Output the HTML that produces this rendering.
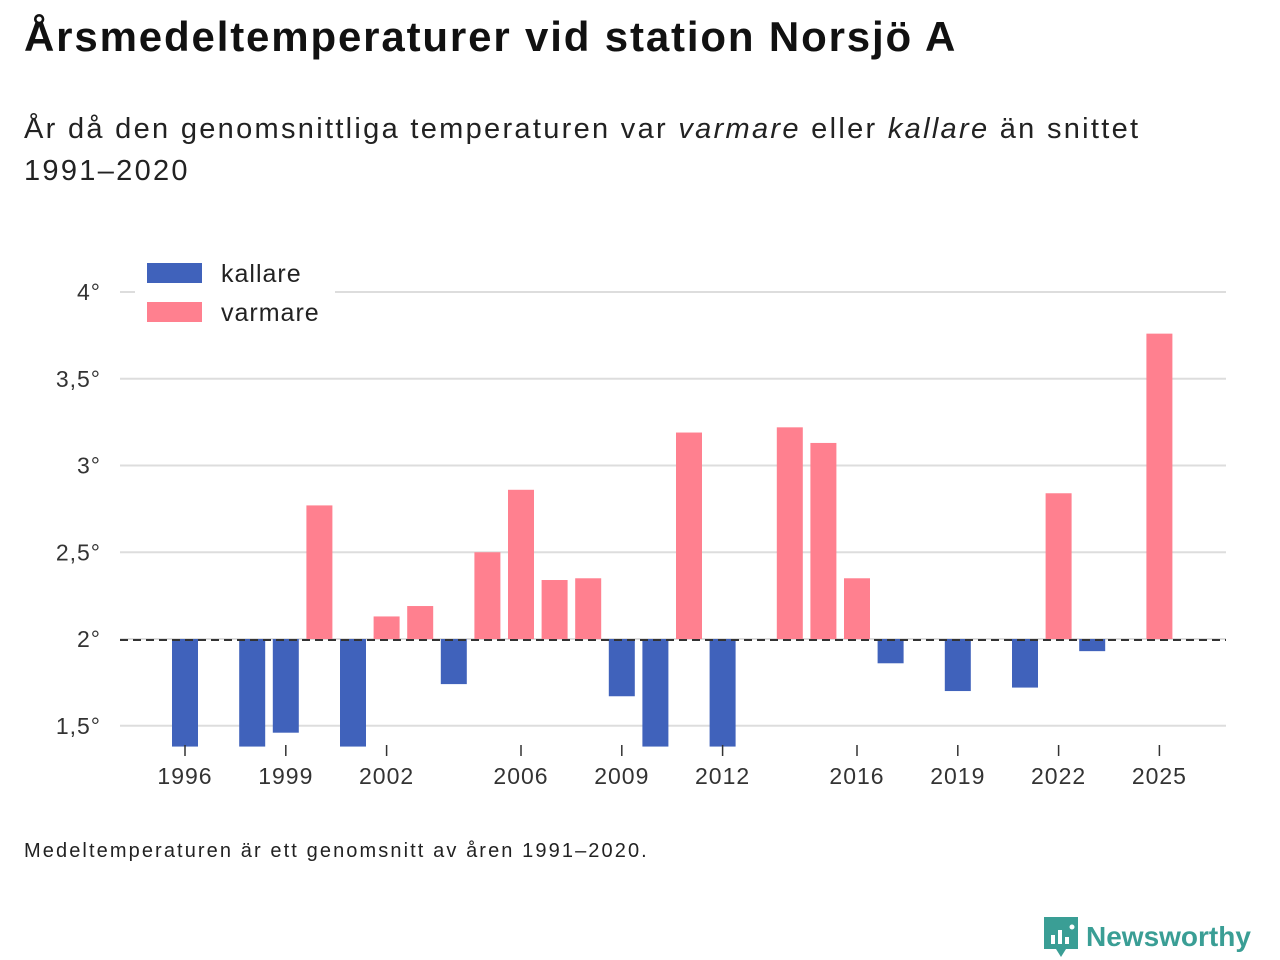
<!DOCTYPE html>
<html><head><meta charset="utf-8"><style>
body{margin:0;width:1280px;height:960px;background:#fff;font-family:"Liberation Sans",sans-serif;color:#111;overflow:hidden;position:relative}
#title{position:absolute;left:24px;top:13px;font-size:42px;font-weight:bold;letter-spacing:1.85px}
#sub{position:absolute;left:24px;top:108px;font-size:29px;line-height:42px;width:1250px;color:#222;letter-spacing:2.3px}
#note{position:absolute;left:24px;top:840px;font-size:20px;color:#222;letter-spacing:2.1px}
#logo{position:absolute;left:1044px;top:917px;display:flex;align-items:center;gap:8px;color:#3a9e95;font-size:28px;font-weight:bold}
</style></head><body>
<div id="title">Årsmedeltemperaturer vid station Norsjö A</div>
<div id="sub">År då den genomsnittliga temperaturen var <i>varmare</i> eller <i>kallare</i> än snittet<br>1991–2020</div>
<svg id="chart" width="1280" height="960" style="position:absolute;left:0;top:0"></svg>
<div id="note">Medeltemperaturen är ett genomsnitt av åren 1991–2020.</div>
<div id="logo"><svg width="34" height="40" viewBox="0 0 34 40"><path d="M0 0H34V32H22L17 40L12 32H0Z" fill="#3a9e95"/><rect x="7" y="18" width="4" height="9" fill="#fff"/><rect x="14" y="13" width="4" height="14" fill="#fff"/><rect x="21" y="20" width="4" height="7" fill="#fff"/><circle cx="28" cy="10" r="2.5" fill="#fff"/></svg><span>Newsworthy</span></div>
<script>
const years=[1996,1997,1998,1999,2000,2001,2002,2003,2004,2005,2006,2007,2008,2009,2010,2011,2012,2013,2014,2015,2016,2017,2018,2019,2020,2021,2022,2023,2024,2025];
const temps=[1.2,null,1.2,1.46,2.77,1.2,2.13,2.19,1.74,2.50,2.86,2.34,2.35,1.67,1.2,3.19,1.2,null,3.22,3.13,2.35,1.86,null,1.70,null,1.72,2.84,1.93,null,3.76];
const yTicks=[1.5,2,2.5,3,3.5,4];
const yTickLabels=["1,5°","2°","2,5°","3°","3,5°","4°"];
const xTicks=[1996,1999,2002,2006,2009,2012,2016,2019,2022,2025];
const baseline=2, yMin=1.38;
const X=y=>185+(y-1996)*33.6;
const Y=v=>639-(v-baseline)*173.5;
const svg=document.getElementById('chart');
const NS='http://www.w3.org/2000/svg';
function mk(t,a){const e=document.createElementNS(NS,t);for(const k in a)e.setAttribute(k,a[k]);svg.appendChild(e);return e;}
yTicks.forEach((v,i)=>{
 const g=mk('line',{x1:120,x2:1226,y1:Y(v),y2:Y(v),stroke:'#ddd','stroke-width':2});
 
 
 const t=mk('text',{x:101,y:Y(v)+8,'text-anchor':'end','font-size':23,fill:'#333','font-family':'Liberation Sans','letter-spacing':1});
 t.textContent=yTickLabels[i];
 
 
});
years.forEach((yr,i)=>{
 const v=temps[i]; if(v==null) return;
 const vv=Math.max(v,yMin);
 const y1=Y(Math.max(vv,baseline)), y2=Y(Math.min(vv,baseline));
 const r=mk('rect',{x:X(yr)-13,y:y1,width:26,height:y2-y1,fill:v>=baseline?'#ff808f':'#4062bb'});
 
 
});
const d=mk('line',{x1:120,x2:1226,y1:Y(baseline)+1,y2:Y(baseline)+1,stroke:'#333','stroke-width':2,'stroke-dasharray':'8,5'});


xTicks.forEach(yr=>{
 const l=mk('line',{x1:X(yr),x2:X(yr),y1:745,y2:756,stroke:'#333','stroke-width':1.5});
 
 
 const t=mk('text',{x:X(yr),y:784,'text-anchor':'middle','font-size':23,fill:'#333','font-family':'Liberation Sans','letter-spacing':1});
 t.textContent=yr;
 
 
});
const bg=mk('rect',{x:135,y:255,width:200,height:80,fill:'#fff'});


[['kallare','#4062bb',263],['varmare','#ff808f',302]].forEach(([n,c,y])=>{
 const r=mk('rect',{x:147,y:y,width:55,height:20,fill:c});
 
 
 const t=mk('text',{x:221,y:y+19,'font-size':25,fill:'#222','font-family':'Liberation Sans','letter-spacing':1});
 t.textContent=n;
 
 
});
</script>
</body></html>
